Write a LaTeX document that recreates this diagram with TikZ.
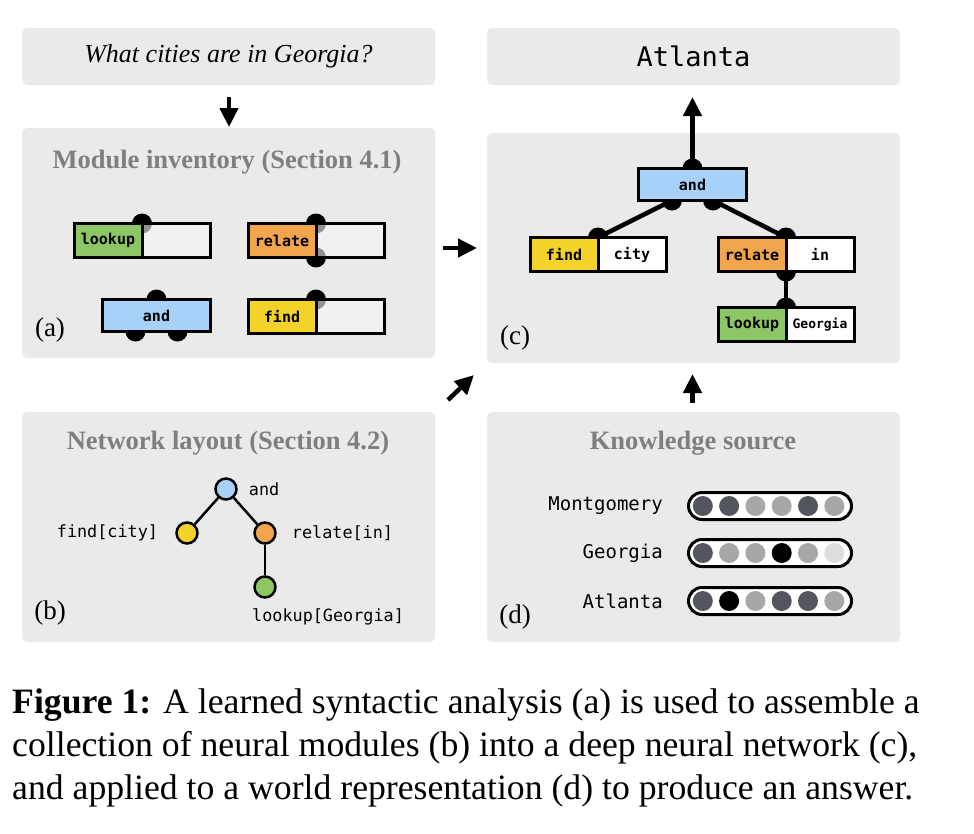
\documentclass[tikz,border=0pt]{standalone}
\usepackage{fontspec}
\setmainfont{Liberation Serif}
\setmonofont{DejaVu Sans Mono}
\usetikzlibrary{arrows.meta,positioning}

\definecolor{panelgray}{HTML}{EAEAEA}
\definecolor{titlegray}{HTML}{7F7F7F}
\definecolor{lookupgreen}{HTML}{8DC765}
\definecolor{relateorange}{HTML}{F2A54C}
\definecolor{andblue}{HTML}{A8D1F7}
\definecolor{findyellow}{HTML}{F3D22A}
\definecolor{argfill}{HTML}{F6F6F6}
\definecolor{dotdark}{HTML}{53575D}
\definecolor{dotmid}{HTML}{A6A8A8}
\definecolor{dotpale}{HTML}{DCDDDE}

\begin{document}
\begin{tikzpicture}[x=1pt,y=-1pt,
    panel/.style={fill=panelgray, rounded corners=5pt, inner sep=0pt, outer sep=0pt, minimum width=413pt},
    title/.style={text=titlegray, font=\fontsize{26.5}{30}\selectfont\bfseries},
    tag/.style={inner sep=0pt, font=\fontsize{27}{30}\selectfont},
    bigarrow/.style={line width=4.5pt, -{Triangle[length=19pt,width=18pt]}},
    knob/.style={fill=black},
    opname/.style={draw, line width=3pt, minimum width=68pt, minimum height=34pt, inner sep=0pt, outer sep=0pt, font=\fontsize{15}{15}\selectfont\ttfamily\bfseries},
    oparg/.style={opname, fill=argfill, fill opacity=0.6},
    argC/.style={opname, fill=white},
    wire/.style={line width=4.5pt},
    treedot/.style={circle, draw, line width=2.5pt, minimum size=21pt, inner sep=0pt},
    treeline/.style={line width=2.5pt},
    lbl/.style={inner sep=0pt, font=\fontsize{16.8}{18}\selectfont\ttfamily},
    city/.style={inner sep=0pt, font=\fontsize{19}{20}\selectfont\ttfamily},
    pill/.style={draw, fill=white, line width=3pt, rounded corners=13.5pt, minimum width=163pt, minimum height=27pt, inner sep=0pt}
  ]
  \useasboundingbox (0,0) rectangle (974,833);

  % question and answer
  \node[panel, minimum height=57pt, font=\fontsize{26}{28}\selectfont\itshape] (qBox) at (228.5,56.5) {What cities are in Georgia?};
  \node[panel, minimum height=57pt, font=\fontsize{27}{28}\selectfont\ttfamily] (ansBox) at (693.5,56.5) {Atlanta};

  % (a) module inventory
  \node[panel, minimum height=230pt] (pA) at (228.5,243) {};
  \node[title] (tA) at (227,162) {Module inventory (Section 4.1)};
  \node[tag] (tagA) at (50,330) {(a)};
  \coordinate (lkAk) at (142,223.5);
  \coordinate (relAk) at (316,223.5);
  \coordinate (relAb) at (316,257.5);
  \coordinate (andAk) at (156.5,299.5);
  \coordinate (andAl) at (135.5,331.5);
  \coordinate (andAr) at (177.5,331.5);
  \coordinate (findAk) at (316,299.5);
  \foreach \k in {lkAk,relAk,relAb,andAk,andAl,andAr,findAk}
    \fill[knob] (\k) circle (10pt);
  \node[opname, fill=lookupgreen, anchor=north east] (lkA) at (lkAk) {lookup};
  \node[oparg, right=0pt of lkA] (lkAx) {};
  \node[opname, fill=relateorange, anchor=north east] (relA) at (relAk) {relate};
  \node[oparg, right=0pt of relA] (relAx) {};
  \node[opname, fill=andblue, minimum width=108pt, minimum height=32pt, anchor=north] (andA) at (andAk) {and};
  \node[opname, fill=findyellow, anchor=north east] (findA) at (findAk) {find};
  \node[oparg, right=0pt of findA] (findAx) {};

  % (c) assembled network
  \node[panel, minimum height=230pt] (pC) at (693.5,248) {};
  \node[tag] (tagC) at (515,338) {(c)};
  \coordinate (andCk) at (692.5,168.5);
  \coordinate (andCl) at (672,200.5);
  \coordinate (andCr) at (713,200.5);
  \coordinate (findCk) at (598,237.5);
  \coordinate (relCk) at (786,237.5);
  \coordinate (relCb) at (786,271.5);
  \coordinate (lkCk) at (786,307.5);
  \coordinate (ansIn) at (692.5,97);
  \draw[bigarrow] (andCk) -- (ansIn);
  \draw[wire] (andCl) -- (findCk);
  \draw[wire] (andCr) -- (relCk);
  \draw[wire] (relCb) -- (lkCk);
  \foreach \k in {andCk,andCl,andCr,findCk,relCk,relCb,lkCk}
    \fill[knob] (\k) circle (10pt);
  \node[opname, fill=andblue, minimum width=108pt, minimum height=32pt, anchor=north] (andC) at (andCk) {and};
  \node[opname, fill=findyellow, anchor=north east] (findC) at (findCk) {find};
  \node[argC, right=0pt of findC] (findCx) {city};
  \node[opname, fill=relateorange, anchor=north east] (relC) at (relCk) {relate};
  \node[argC, right=0pt of relC] (relCx) {in};
  \node[opname, fill=lookupgreen, anchor=north east] (lkC) at (lkCk) {lookup};
  \node[argC, right=0pt of lkC, font=\fontsize{13}{13}\selectfont\ttfamily\bfseries] (lkCx) {Georgia};

  % (b) network layout
  \node[panel, minimum height=230pt] (pB) at (228.5,527) {};
  \node[title] (tB) at (228,443) {Network layout (Section 4.2)};
  \node[tag] (tagB) at (50,613) {(b)};
  \node[treedot, fill=andblue] (andB) at (226,489) {};
  \node[treedot, fill=findyellow] (findB) at (187,533) {};
  \node[treedot, fill=relateorange] (relB) at (265,533) {};
  \node[treedot, fill=lookupgreen] (lkB) at (265,587) {};
  \draw[treeline] (andB) -- (findB);
  \draw[treeline] (andB) -- (relB);
  \draw[treeline] (relB) -- (lkB);
  \node[lbl, right=11pt of andB] (andBt) {and};
  \node[lbl, left=17pt of findB] (findBt) {find[city]};
  \node[lbl, right=15pt of relB] (relBt) {relate[in]};
  \node[lbl, anchor=west] (lkBt) at (252,617) {lookup[Georgia]};

  % (d) knowledge source
  \node[panel, minimum height=230pt] (pD) at (693.5,527) {};
  \node[title] (tD) at (693,443) {Knowledge source};
  \node[tag] (tagD) at (515,617) {(d)};
  \foreach \name/\y/\cols in {Montgomery/506/{dotdark,dotdark,dotmid,dotmid,dotdark,dotmid},
                              Georgia/553/{dotdark,dotmid,dotmid,black,dotmid,dotpale},
                              Atlanta/601/{dotdark,black,dotmid,dotdark,dotdark,dotmid}}{
    \node[city, anchor=east] (\name) at (663,\y) {\name};
    \node[pill] (pill\name) at (770,\y) {};
    \foreach \c [count=\i] in \cols
      \fill[\c] (676.5+26.3*\i,\y) circle (10pt);
  }

  % flow between panels
  \coordinate (qOut) at (229,97);
  \coordinate (aIn) at (229,127);
  \coordinate (aOut) at (443,248);
  \coordinate (cIn) at (477,248);
  \coordinate (bOut) at (448,400);
  \coordinate (cIn2) at (474,375);
  \coordinate (dOut) at (692.5,403);
  \coordinate (cIn3) at (692.5,374);
  \draw[bigarrow] (qOut) -- (aIn);
  \draw[bigarrow] (aOut) -- (cIn);
  \draw[bigarrow] (bOut) -- (cIn2);
  \draw[bigarrow] (dOut) -- (cIn3);

  % caption
  \node[anchor=north west, align=left, inner sep=0pt, font=\fontsize{35.7}{43}\selectfont] (caption) at (12,689)
    {\textbf{Figure 1:} A learned syntactic analysis (a) is used to assemble a\\
     collection of neural modules (b) into a deep neural network (c),\\
     and applied to a world representation (d) to produce an answer.};
\end{tikzpicture}
\end{document}
